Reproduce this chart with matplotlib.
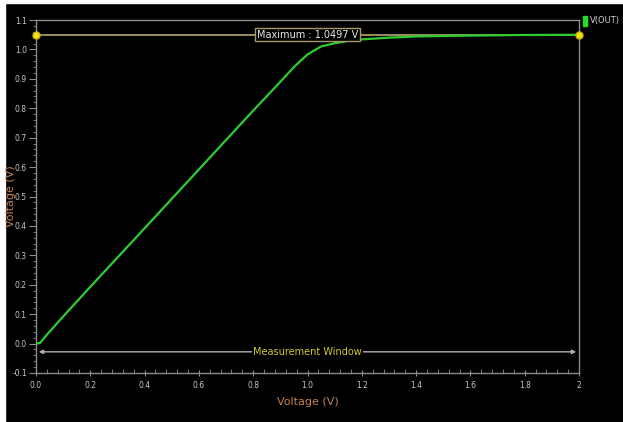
import matplotlib
matplotlib.use("Agg")
import matplotlib.pyplot as plt
from matplotlib.patches import Rectangle
from matplotlib.ticker import MultipleLocator

plt.rcParams['font.family'] = ['Liberation Sans Narrow', 'DejaVu Sans']

# transfer curve
vin = [0.0, 0.015, 0.04, 0.1, 0.2, 0.4, 0.6, 0.8, 0.9, 0.95, 1.0, 1.05, 1.1,
       1.15, 1.2, 1.3, 1.4, 1.6, 1.8, 2.0]
vout = [0.0, 0.002, 0.03, 0.092, 0.193, 0.392, 0.592, 0.792, 0.89, 0.94, 0.983,
        1.01, 1.021, 1.029, 1.034, 1.04, 1.044, 1.047, 1.049, 1.0497]

max_val = 1.0497
window_y = -0.028
xticks = [0.0, 0.2, 0.4, 0.6, 0.8, 1.0, 1.2, 1.4, 1.6, 1.8, 2.0]
xtick_labels = ['0.0', '0.2', '0.4', '0.6', '0.8', '1.0', '1.2', '1.4', '1.6', '1.8', '2']
yticks = [-0.1, 0.0, 0.1, 0.2, 0.3, 0.4, 0.5, 0.6, 0.7, 0.8, 0.9, 1.0, 1.1]

grey = '#8c8c8c'
fig = plt.figure(figsize=(6.23, 4.22), dpi=100, facecolor='black')
# thin white frame on the top and left of the screenshot
fig.patches.append(Rectangle((0, 1 - 3 / 422), 1, 3 / 422, transform=fig.transFigure,
                             color='white', zorder=-1))
fig.patches.append(Rectangle((0, 0), 5 / 623, 1, transform=fig.transFigure,
                             color='white', zorder=-1))

ax = fig.add_axes([36 / 623, 1 - 373 / 422, (579 - 36) / 623, (373 - 20) / 422])
ax.set_facecolor('black')

ax.plot(vin, vout, color='#2ecc2e', lw=1.6, zorder=3)

# maximum marker line
ax.plot([0, 2], [max_val, max_val], color='#a89a68', lw=1.3, zorder=2)
ax.plot([0, 2], [max_val, max_val], ls='none', marker='o', ms=5, mfc='#f0e020',
        mec='#c8b800', clip_on=False, zorder=4)
ax.text(1.0, max_val, 'Maximum : 1.0497 V', color='#e8e8e8', fontsize=7,
        ha='center', va='center', zorder=5,
        bbox=dict(boxstyle='square,pad=0.15', fc='black', ec='#a89a68', lw=1))

# measurement window
ax.annotate('', xy=(0, window_y), xytext=(2, window_y),
            arrowprops=dict(arrowstyle='<|-|>', color='#b0b0b0', lw=1,
                            mutation_scale=6))
ax.text(1.0, window_y, 'Measurement Window', color='#d0c830', fontsize=7,
        ha='center', va='center', zorder=5,
        bbox=dict(boxstyle='square,pad=0.1', fc='black', ec='none'))

ax.set_xlim(0, 2)
ax.set_ylim(-0.1, 1.1)
ax.set_xticks(xticks)
ax.set_xticklabels(xtick_labels)
ax.set_yticks(yticks)
ax.set_yticklabels([f'{v:.1f}' for v in yticks])
ax.xaxis.set_minor_locator(MultipleLocator(0.04))
ax.yaxis.set_minor_locator(MultipleLocator(0.02))

for s in ax.spines.values():
    s.set_color(grey)
    s.set_linewidth(1)
ax.tick_params(axis='both', which='both', colors=grey, labelcolor='#c8c8c8',
               labelsize=5.5)
ax.tick_params(axis='y', which='major', length=5, direction='out', pad=1.5)
ax.tick_params(axis='y', which='minor', length=2, direction='out')
ax.tick_params(axis='x', which='major', length=4, direction='inout')
ax.tick_params(axis='x', which='minor', length=3, direction='in')

ax.set_xlabel('Voltage (V)', color='#c8804c', fontsize=8, labelpad=5)
ax.set_ylabel('Voltage (V)', color='#c8804c', fontsize=8)
ax.yaxis.set_label_coords(-0.037, 0.5)

# legend entry at the top right
fig.patches.append(Rectangle((583 / 623, 1 - 26 / 422), 4 / 623, 10 / 422,
                             transform=fig.transFigure, color='#22dd22'))
fig.text(590 / 623, 1 - 21 / 422, 'V(OUT)', color='#d0d0d0', fontsize=6,
         va='center', ha='left')

fig.savefig('out.png', dpi=100, facecolor='black')
